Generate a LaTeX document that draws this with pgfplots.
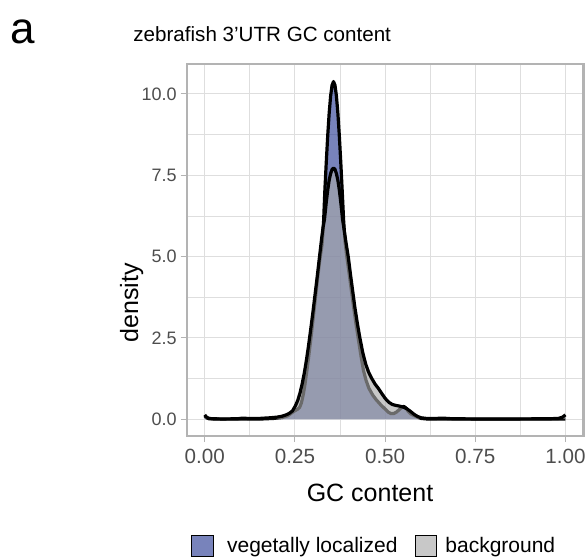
\documentclass[border=0pt]{standalone}
\usepackage{pgfplots}
\usepackage{pgfplotstable}
\pgfplotsset{compat=1.18}
\usepackage{fontspec}
\setmainfont{Liberation Sans}
\definecolor{grid87}{RGB}{222,222,222}
\definecolor{grey70}{RGB}{179,179,179}
\definecolor{grey30}{RGB}{77,77,77}
\definecolor{vegfill}{RGB}{30,48,142}
\definecolor{bgfill}{RGB}{168,168,168}

\pgfplotstableread{
x y
0.000 0.10
0.005 0.04
0.012 0.01
0.040 0.00
0.150 0.00
0.190 0.02
0.215 0.05
0.230 0.10
0.242 0.20
0.250 0.26
0.257 0.30
0.263 0.36
0.268 0.50
0.273 0.75
0.278 1.08
0.283 1.48
0.289 2.00
0.295 2.55
0.301 3.15
0.307 3.75
0.313 4.35
0.319 4.90
0.325 5.35
0.329 5.95
0.333 7.04
0.337 7.92
0.341 8.73
0.345 9.42
0.349 9.94
0.353 10.27
0.357 10.38
0.361 10.27
0.365 9.94
0.369 9.42
0.373 8.73
0.377 7.92
0.381 7.04
0.385 6.11
0.389 5.45
0.394 4.98
0.400 4.50
0.406 4.00
0.412 3.50
0.419 2.95
0.426 2.45
0.433 1.95
0.440 1.50
0.447 1.20
0.455 0.95
0.465 0.75
0.475 0.60
0.487 0.45
0.498 0.33
0.508 0.22
0.516 0.17
0.524 0.17
0.532 0.22
0.540 0.30
0.547 0.37
0.552 0.39
0.558 0.34
0.564 0.24
0.571 0.16
0.580 0.11
0.590 0.06
0.600 0.02
0.620 0.00
1.000 0.00
}\vegtab

\pgfplotstableread{
x y
0.000 0.13
0.004 0.07
0.010 0.03
0.020 0.01
0.050 0.005
0.090 0.01
0.105 0.03
0.120 0.02
0.150 0.02
0.180 0.04
0.200 0.06
0.215 0.09
0.228 0.14
0.236 0.19
0.243 0.25
0.251 0.40
0.258 0.58
0.264 0.80
0.270 1.08
0.276 1.42
0.282 1.82
0.288 2.28
0.294 2.78
0.300 3.30
0.306 3.85
0.312 4.40
0.318 4.98
0.324 5.55
0.328 5.90
0.332 6.15
0.337 6.68
0.341 7.05
0.345 7.35
0.349 7.55
0.353 7.68
0.357 7.72
0.361 7.68
0.365 7.55
0.369 7.35
0.373 7.05
0.377 6.68
0.382 6.15
0.386 5.85
0.392 5.40
0.398 4.98
0.404 4.45
0.410 3.95
0.416 3.45
0.423 2.95
0.430 2.50
0.438 2.05
0.446 1.70
0.454 1.45
0.463 1.25
0.472 1.08
0.481 0.95
0.490 0.80
0.500 0.64
0.510 0.52
0.520 0.45
0.530 0.42
0.540 0.40
0.550 0.37
0.560 0.32
0.570 0.24
0.580 0.15
0.590 0.08
0.600 0.04
0.615 0.02
0.640 0.02
0.660 0.03
0.680 0.015
0.700 0.01
0.750 0.005
0.850 0.005
0.950 0.01
0.980 0.02
0.992 0.06
1.000 0.13
}\bgtab

\begin{document}
\begin{tikzpicture}
\path[use as bounding box] (0,0) rectangle (293.5pt,279.5pt);
\begin{axis}[
  at={(93.35pt,61.5pt)}, anchor=south west,
  scale only axis, width=198.4pt, height=186pt,
  xmin=-0.05, xmax=1.05, ymin=-0.52, ymax=10.92,
  xtick={0,0.25,0.5,0.75,1}, xticklabels={0.00,0.25,0.50,0.75,1.00},
  ytick={0,2.5,5,7.5,10}, yticklabels={0.0,2.5,5.0,7.5,10.0},
  minor xtick={0.125,0.375,0.625,0.875},
  minor ytick={1.25,3.75,6.25,8.75},
  grid=both,
  major grid style={color=grid87, line width=0.55pt},
  minor grid style={color=grid87, line width=0.35pt},
  axis line style={color=grey70, line width=1.2pt},
  tick style={color=grey70, line width=0.5pt},
  major tick length=3pt, minor tick length=0pt,
  tick align=outside, tick pos=left,
  xticklabel style={font=\fontsize{10.3}{12}\selectfont, text=grey30},
  yticklabel style={font=\fontsize{9}{11}\selectfont, text=grey30, inner sep=0pt, xshift=-1.8pt},
  clip=true,
]
\addplot[draw=none, fill=vegfill, fill opacity=0.6] table {\vegtab} \closedcycle;
\addplot[black, line width=1.6pt, line join=round] table {\vegtab};
\addplot[draw=none, fill=bgfill, fill opacity=0.63] table {\bgtab} \closedcycle;
\addplot[black, line width=1.6pt, line join=round] table {\bgtab};
\end{axis}
% titles
\node[anchor=base west, font=\fontsize{22}{26}\selectfont, inner sep=0pt] at (5pt,258pt) {a};
\node[anchor=base west, font=\fontsize{10.3}{12}\selectfont, inner sep=0pt] at (66.5pt,259pt) {zebrafish 3’UTR GC content};
\node[anchor=base, font=\fontsize{12.5}{14}\selectfont, inner sep=0pt] at (185pt,29pt) {GC content};
\node[anchor=base, rotate=90, font=\fontsize{12.5}{14}\selectfont, inner sep=0pt] at (69pt,128pt) {density};
% legend
\fill[vegfill, fill opacity=0.6] (95.85pt,1.2pt) rectangle (106.65pt,12pt);
\draw[black, line width=0.5pt] (95.85pt,1.2pt) rectangle (106.65pt,12pt);
\node[anchor=base west, font=\fontsize{10.5}{12}\selectfont, inner sep=0pt] at (113.35pt,3.2pt) {vegetally localized};
\fill[bgfill, fill opacity=0.63] (207.5pt,1.2pt) rectangle (218.3pt,12pt);
\draw[black, line width=0.5pt] (207.5pt,1.2pt) rectangle (218.3pt,12pt);
\node[anchor=base west, font=\fontsize{10.5}{12}\selectfont, inner sep=0pt] at (222.5pt,3.2pt) {background};
\end{tikzpicture}
\end{document}
